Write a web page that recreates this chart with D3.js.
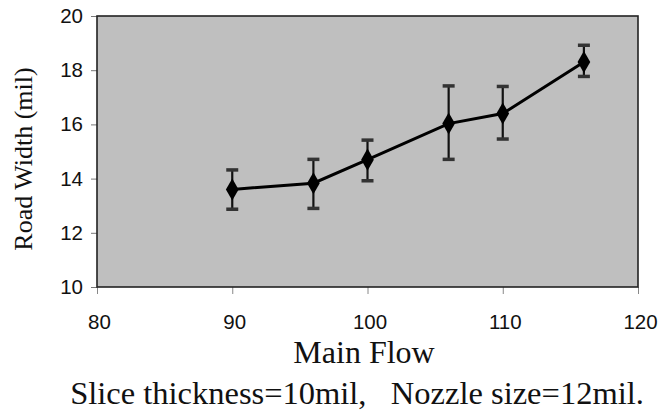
<!DOCTYPE html>
<html>
<head>
<meta charset="utf-8">
<script src="https://cdn.jsdelivr.net/npm/d3@7"></script>
<style>
  html, body { margin: 0; padding: 0; background: #fff; }
  svg { display: block; }
</style>
</head>
<body>
<svg id="chart" width="660" height="417"></svg>
<script>
// ---- data ----
const mainFlow   = [90, 96, 100, 106, 110, 116];
const roadWidth  = [13.6, 13.83, 14.7, 16.03, 16.4, 18.3];
const errLow     = [12.87, 12.9, 13.92, 14.71, 15.46, 17.77];
const errHigh    = [14.32, 14.71, 15.42, 17.42, 17.4, 18.92];
const xTicks     = [80, 90, 100, 110, 120];
const yTicks     = [10, 12, 14, 16, 18, 20];
const xTitle     = "Main Flow";
const yTitle     = "Road Width (mil)";
const caption    = "Slice thickness=10mil,   Nozzle size=12mil.";

const svg = d3.select("#chart");
const L = 97, R = 638, T = 16, B = 287;

const x = d3.scaleLinear().domain([80, 120]).range([L, R]);
const y = d3.scaleLinear().domain([10, 20]).range([B, T]);

// plot background
svg.append("rect")
  .attr("x", L).attr("y", T).attr("width", R - L).attr("height", B - T)
  .attr("fill", "#bfbfbf");

// axes
const yAxis = svg.append("g")
  .attr("transform", `translate(${L},0)`)
  .call(d3.axisLeft(y).tickValues(yTicks).tickSize(6).tickPadding(8).tickFormat(d3.format("d")));
yAxis.select(".domain").remove();
yAxis.selectAll("line").attr("stroke", "#777");
yAxis.selectAll("text")
  .attr("font-family", "Liberation Sans, Arial, sans-serif")
  .attr("font-size", 20.5).attr("fill", "#111");

const xAxis = svg.append("g")
  .attr("transform", `translate(0,${B})`)
  .call(d3.axisBottom(x).tickValues(xTicks).tickSize(7).tickPadding(20).tickFormat(d3.format("d")));
xAxis.select(".domain").remove();
xAxis.selectAll("line").attr("stroke", "#888");
xAxis.selectAll("text")
  .attr("dx", 2)
  .attr("font-family", "Liberation Sans, Arial, sans-serif")
  .attr("font-size", 20.5).attr("fill", "#111");

// plot border
svg.append("rect")
  .attr("x", L).attr("y", T).attr("width", R - L).attr("height", B - T)
  .attr("fill", "none").attr("stroke", "#222").attr("stroke-width", 1.6);

const data = mainFlow.map((m, i) => ({ x: m, y: roadWidth[i], lo: errLow[i], hi: errHigh[i] }));

// error bars
const eb = svg.append("g").selectAll("g").data(data).join("g");
eb.append("line")
  .attr("x1", d => x(d.x)).attr("x2", d => x(d.x))
  .attr("y1", d => y(d.lo)).attr("y2", d => y(d.hi))
  .attr("stroke", "#111").attr("stroke-width", 2.2);
eb.append("line")
  .attr("x1", d => x(d.x) - 6).attr("x2", d => x(d.x) + 6)
  .attr("y1", d => y(d.hi)).attr("y2", d => y(d.hi))
  .attr("stroke", "#333").attr("stroke-width", 3.5);
eb.append("line")
  .attr("x1", d => x(d.x) - 6).attr("x2", d => x(d.x) + 6)
  .attr("y1", d => y(d.lo)).attr("y2", d => y(d.lo))
  .attr("stroke", "#333").attr("stroke-width", 3.5);

// line
svg.append("path")
  .datum(data)
  .attr("d", d3.line().x(d => x(d.x)).y(d => y(d.y)))
  .attr("fill", "none").attr("stroke", "#000").attr("stroke-width", 3);

// diamonds
svg.append("g").selectAll("path").data(data).join("path")
  .attr("transform", d => `translate(${x(d.x)},${y(d.y)})`)
  .attr("d", d3.symbol().type(d3.symbolDiamond).size(140))
  .attr("fill", "#000");

// titles
svg.append("text")
  .attr("transform", `translate(32,159) rotate(-90)`)
  .attr("text-anchor", "middle")
  .attr("font-family", "Liberation Serif, Times New Roman, serif")
  .attr("font-size", 26).attr("fill", "#111")
  .text(yTitle);

svg.append("text")
  .attr("x", 364).attr("y", 363)
  .attr("text-anchor", "middle")
  .attr("font-family", "Liberation Serif, Times New Roman, serif")
  .attr("font-size", 32).attr("fill", "#111")
  .text(xTitle);

svg.append("text")
  .attr("x", 357).attr("y", 404)
  .attr("text-anchor", "middle")
  .attr("font-family", "Liberation Serif, Times New Roman, serif")
  .attr("font-size", 32.5).attr("fill", "#111")
  .style("white-space", "pre")
  .attr("xml:space", "preserve")
  .text(caption);
</script>
</body>
</html>
